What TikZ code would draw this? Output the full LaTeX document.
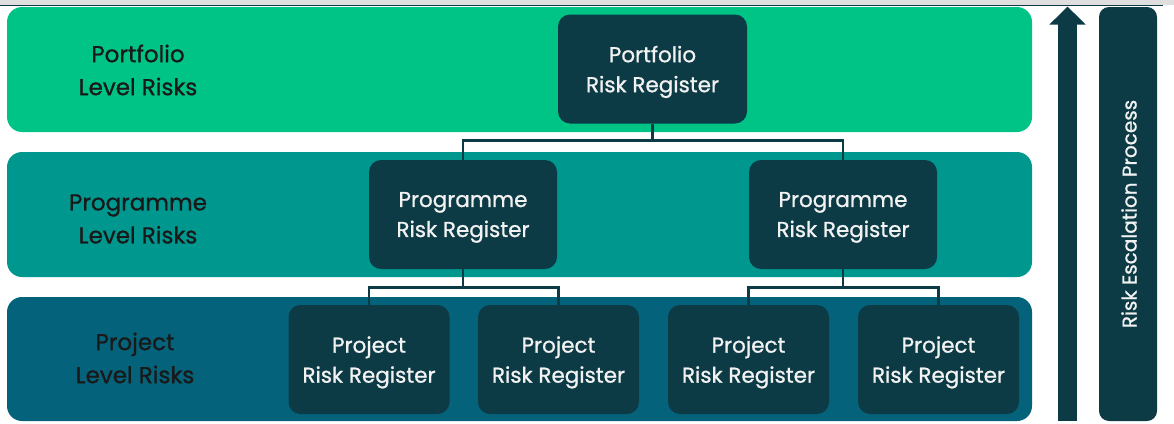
\documentclass[tikz,border=0pt]{standalone}
\usepackage{fontspec}
\setmainfont{Poppins}[FakeBold=0.9]
\usetikzlibrary{arrows.meta}
\definecolor{leafgreen}{HTML}{00C486}
\definecolor{seateal}{HTML}{00978F}
\definecolor{deepteal}{HTML}{04627A}
\definecolor{inkteal}{HTML}{0C3B46}
\tikzstyle{band}=[rounded corners=15pt]
\tikzstyle{level}=[align=center, text=black!90, font=\fontsize{23pt}{33pt}\selectfont]
\tikzstyle{register}=[align=center, fill=inkteal, text=white!95!black, rounded corners=12pt, inner sep=0pt, minimum height=109pt, text depth=0pt, font=\fontsize{21.5pt}{30pt}\selectfont]
\tikzstyle{link}=[draw=inkteal, line width=2.6pt]

\begin{document}
\begin{tikzpicture}[x=1pt,y=-1pt]
    \useasboundingbox (0,0) rectangle (1174,423);

    % Screen edge
    \fill[gray!25] (0,0) rectangle (1174,5);
    \draw[inkteal, line width=1.5pt] (0,5.5) -- (1163,5.5);

    % Levels
    \fill[band, leafgreen] (7,7) rectangle (1032,132);
    \fill[band, seateal] (7,152) rectangle (1032,277);
    \fill[band, deepteal] (7,297) rectangle (1032,421);
    \draw (138,70) node[level] (lport) {Portfolio\\Level Risks};
    \draw (138,219) node[level] (lprog) {Programme\\Level Risks};
    \draw (135,358) node[level] (lproj) {Project\\Level Risks};

    % Registers
    \draw (652.5,69) node[register, minimum width=189pt] (port) {Portfolio\\Risk Register};
    \draw (463,214.5) node[register, minimum width=188pt] (proga) {Programme\\Risk Register};
    \draw (843,214.5) node[register, minimum width=188pt] (progb) {Programme\\Risk Register};
    \draw (369,359.5) node[register, minimum width=161pt] (proja) {Project\\Risk Register};
    \draw (558.5,359.5) node[register, minimum width=161pt] (projb) {Project\\Risk Register};
    \draw (748.5,359.5) node[register, minimum width=161pt] (projc) {Project\\Risk Register};
    \draw (938.5,359.5) node[register, minimum width=161pt] (projd) {Project\\Risk Register};

    % Links
    \draw[link] (port.south) -- ++(0,17) coordinate (jport);
    \draw[link] (proga.north) |- (jport) -| (progb.north);
    \draw[link] (proga.south) -- ++(0,18) coordinate (jproga);
    \draw[link] (proja.north) |- (jproga) -| (projb.north);
    \draw[link] (progb.south) -- ++(0,18) coordinate (jprogb);
    \draw[link] (projc.north) |- (jprogb) -| (projd.north);

    % Escalation
    \coordinate (base) at (1067.5,421);
    \coordinate (tip) at (1067.5,6.5);
    \draw[inkteal, line width=19pt, -{Triangle[width=35pt,length=18pt]}] (base) -- (tip);
    \fill[inkteal, rounded corners=10pt] (1099,7) rectangle (1157,421);
    \draw (1129,214) node[rotate=90, text=white!95!black, font=\fontsize{20pt}{24pt}\selectfont] (esc) {Risk Escalation Process};

\end{tikzpicture}
\end{document}
